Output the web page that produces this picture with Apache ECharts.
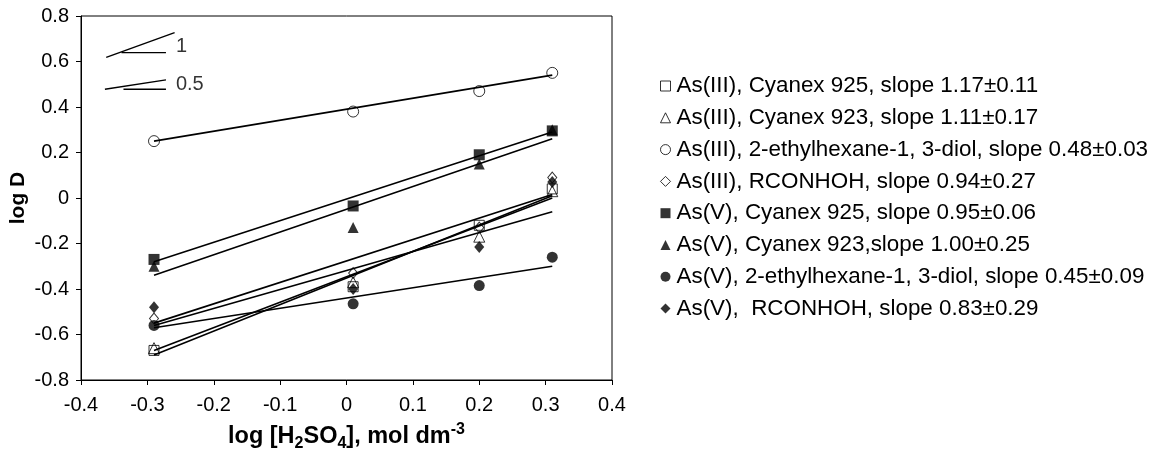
<!DOCTYPE html>
<html>
<head>
<meta charset="utf-8">
<script src="https://cdn.jsdelivr.net/npm/echarts@6/dist/echarts.min.js"></script>
<style>
  html, body { margin: 0; padding: 0; background: #fff; }
  #chart { width: 1160px; height: 450px; }
</style>
</head>
<body>
<div id="chart"></div>
<script>
// log [H2SO4] at which log D was measured
const xLog = [-0.29, 0.01, 0.20, 0.31];
// x range covered by the regression lines
const fitX = [-0.29, 0.31];

const seriesNames = [
  'As(III), Cyanex 925, slope 1.17\u00b10.11',
  'As(III), Cyanex 923, slope 1.11\u00b10.17',
  'As(III), 2-ethylhexane-1, 3-diol, slope 0.48\u00b10.03',
  'As(III), RCONHOH, slope 0.94\u00b10.27',
  'As(V), Cyanex 925, slope 0.95\u00b10.06',
  'As(V), Cyanex 923,slope 1.00\u00b10.25',
  'As(V), 2-ethylhexane-1, 3-diol, slope 0.45\u00b10.09',
  'As(V),  RCONHOH, slope 0.83\u00b10.29'
];

// measured log D values
const logD_AsIII_C925 = [-0.67, -0.39, -0.12, 0.04];
const logD_AsIII_C923 = [-0.66, -0.37, -0.17, 0.03];
const logD_AsIII_diol = [0.25, 0.38, 0.47, 0.55];
const logD_AsIII_hydroxamic = [-0.53, -0.33, -0.13, 0.09];
const logD_AsV_C925 = [-0.27, -0.035, 0.19, 0.295];
const logD_AsV_C923 = [-0.30, -0.13, 0.15, 0.30];
const logD_AsV_diol = [-0.56, -0.465, -0.385, -0.26];
const logD_AsV_hydroxamic = [-0.48, -0.40, -0.215, 0.07];

// regression line ends (log D at fitX[0] and fitX[1])
const fit_AsIII_C925 = [-0.69, 0.01];
const fit_AsIII_C923 = [-0.67, 0.00];
const fit_AsIII_diol = [0.25, 0.54];
const fit_AsIII_hydroxamic = [-0.55, 0.015];
const fit_AsV_C925 = [-0.28, 0.29];
const fit_AsV_C923 = [-0.34, 0.26];
const fit_AsV_diol = [-0.57, -0.30];
const fit_AsV_hydroxamic = [-0.56, -0.06];

// slope reference marks in the upper-left corner
const slopeOneLine = [[-0.362, 0.618], [-0.259, 0.727]];
const slopeOneBase = [[-0.339, 0.639], [-0.272, 0.639]];
const slopeHalfLine = [[-0.364, 0.478], [-0.272, 0.519]];
const slopeHalfBase = [[-0.336, 0.478], [-0.272, 0.478]];
const slopeLabels = [['1', -0.257, 0.664], ['0.5', -0.257, 0.497]];

const measured = [logD_AsIII_C925, logD_AsIII_C923, logD_AsIII_diol, logD_AsIII_hydroxamic,
                  logD_AsV_C925, logD_AsV_C923, logD_AsV_diol, logD_AsV_hydroxamic];
const fits = [fit_AsIII_C925, fit_AsIII_C923, fit_AsIII_diol, fit_AsIII_hydroxamic,
              fit_AsV_C925, fit_AsV_C923, fit_AsV_diol, fit_AsV_hydroxamic];

const markerStyles = [
  { symbol: 'rect', size: 10, open: true },
  { symbol: 'triangle', size: 11, open: true },
  { symbol: 'circle', size: 11, open: true },
  { symbol: 'diamond', size: [9, 11], open: true },
  { symbol: 'rect', size: 11, open: false },
  { symbol: 'triangle', size: 11, open: false },
  { symbol: 'circle', size: 11, open: false },
  { symbol: 'diamond', size: [10, 12], open: false }
];

const FONT = 'Liberation Sans, Arial, Helvetica, sans-serif';
const INK = '#000';

function markerItemStyle(m) {
  return m.open
    ? { color: 'rgba(0,0,0,0)', borderColor: INK, borderWidth: 1 }
    : { color: INK, borderColor: INK, borderWidth: 0 };
}

const series = [];

// regression lines
fits.forEach((f, i) => {
  series.push({
    name: 'fit ' + i,
    type: 'line',
    data: [[fitX[0], f[0]], [fitX[1], f[1]]],
    showSymbol: false,
    silent: true,
    z: 2,
    lineStyle: { color: INK, width: 1.6 },
    animation: false
  });
});

// measured points
measured.forEach((vals, i) => {
  const m = markerStyles[i];
  series.push({
    name: seriesNames[i],
    type: 'scatter',
    data: xLog.map((x, k) => [x, vals[k]]),
    symbol: m.symbol,
    symbolSize: m.size,
    itemStyle: markerItemStyle(m),
    z: 3 + i,
    animation: false
  });
});

// slope reference marks
[slopeOneLine, slopeOneBase, slopeHalfLine, slopeHalfBase].forEach((seg, i) => {
  series.push({
    name: 'guide ' + i,
    type: 'line',
    data: seg,
    showSymbol: false,
    silent: true,
    z: 2,
    lineStyle: { color: INK, width: 1.4 },
    animation: false
  });
});
series.push({
  name: 'guide labels',
  type: 'scatter',
  data: slopeLabels.map(l => ({ name: l[0], value: [l[1], l[2]] })),
  symbolSize: 0,
  silent: true,
  label: {
    show: true, position: 'right', distance: 0,
    formatter: p => p.name,
    color: INK, fontFamily: FONT, fontSize: 20
  },
  animation: false
});

const legendData = seriesNames.map((name, i) => {
  const m = markerStyles[i];
  return {
    name: name,
    icon: m.symbol,
    itemStyle: m.open
      ? { color: 'rgba(0,0,0,0)', borderColor: INK, borderWidth: 1 }
      : { color: INK, borderColor: INK, borderWidth: 0 }
  };
});

const chart = echarts.init(document.getElementById('chart'), null, { renderer: 'canvas' });
chart.setOption({
  animation: false,
  backgroundColor: '#fff',
  grid: {
    left: 81, right: 548, top: 16, bottom: 70,
    outerBoundsMode: 'none',
    containLabel: false,
    show: true, borderColor: INK, borderWidth: 1, backgroundColor: 'transparent'
  },
  xAxis: {
    type: 'value',
    min: -0.4, max: 0.4, interval: 0.1,
    name: '{b|log [H}{sub|2}{b|SO}{sub|4}{b|], mol dm}{sup|-3}',
    nameLocation: 'middle',
    nameGap: 42,
    nameTextStyle: {
      rich: {
        b: { fontFamily: FONT, fontWeight: 'bold', fontSize: 23.5, color: INK, lineHeight: 30 },
        sub: { fontFamily: FONT, fontWeight: 'bold', fontSize: 16, color: INK, lineHeight: 15, verticalAlign: 'bottom' },
        sup: { fontFamily: FONT, fontWeight: 'bold', fontSize: 16, color: INK, lineHeight: 15, verticalAlign: 'top' }
      }
    },
    axisLine: { onZero: false, lineStyle: { color: INK, width: 1 } },
    axisTick: { show: true, inside: false, length: 5, lineStyle: { color: INK } },
    axisLabel: { color: INK, fontFamily: FONT, fontSize: 20, margin: 15 },
    splitLine: { show: false }
  },
  yAxis: {
    type: 'value',
    min: -0.8, max: 0.8, interval: 0.2,
    name: 'log D',
    nameLocation: 'middle',
    nameGap: 52,
    nameTextStyle: { fontFamily: FONT, fontWeight: 'bold', fontSize: 21, color: INK },
    axisLine: { onZero: false, lineStyle: { color: INK, width: 1 } },
    axisTick: { show: true, inside: false, length: 5, lineStyle: { color: INK } },
    axisLabel: { color: INK, fontFamily: FONT, fontSize: 20, margin: 12 },
    splitLine: { show: false }
  },
  legend: {
    orient: 'vertical',
    left: 655,
    top: 70,
    itemWidth: 10,
    itemHeight: 10,
    itemGap: 9.8,
    selectedMode: false,
    textStyle: { color: INK, fontFamily: FONT, fontSize: 22.4, lineHeight: 22, padding: [0, 0, 0, 1] },
    data: legendData
  },
  series: series
});
</script>
</body>
</html>
